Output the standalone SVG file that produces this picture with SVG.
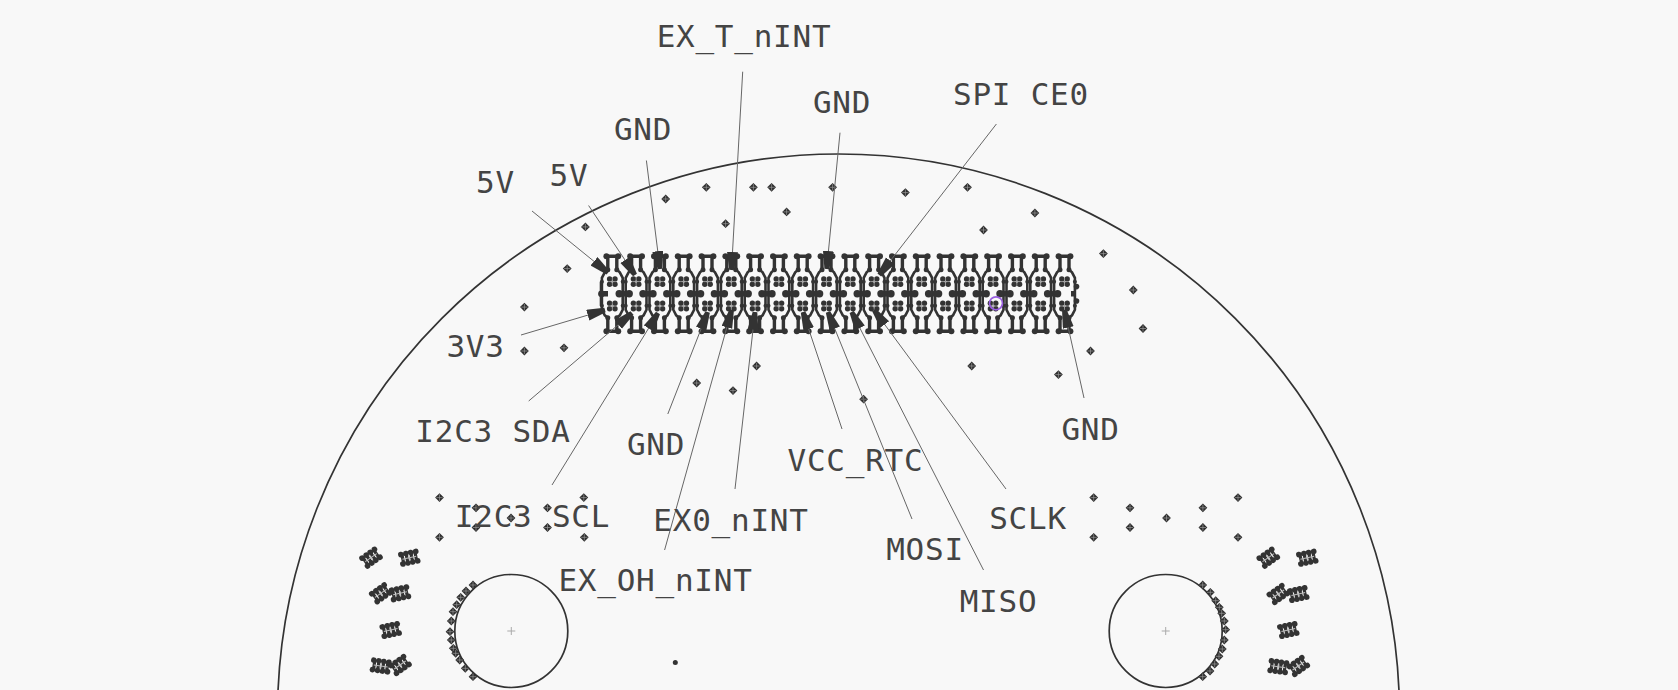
<svg xmlns="http://www.w3.org/2000/svg" width="1678" height="690" viewBox="0 0 1678 690">
<style>
text{font-family:"DejaVu Sans Mono","Liberation Mono",monospace;font-size:31px;letter-spacing:.75px;fill:#444;text-anchor:middle}
.lead{stroke:#666;stroke-width:1;fill:none;marker-end:url(#ah)}
.edge{fill:none;stroke:#333;stroke-width:1.7}
.px{stroke:#aaa;stroke-width:1;fill:none}
</style>
<defs>
<marker id="ah" markerUnits="userSpaceOnUse" markerWidth="20" markerHeight="12" refX="18" refY="5.5" orient="auto"><polygon points="0,0 18,3.2 18,7.8 0,11" fill="#333"/></marker>
<g id="via"><path d="M0-4.4L4.4 0 0 4.4-4.4 0Z" fill="#2e2e2e"/><path d="M-3.2 0H3.2M0-3.2V3.2" stroke="#999" stroke-width=".7"/></g>
<g id="foil"><g fill="#333"><circle cx="-2.7" cy="-2.7" r="2.7"/><circle cx="2.7" cy="-2.7" r="2.7"/><circle cx="-2.7" cy="2.7" r="2.7"/><circle cx="2.7" cy="2.7" r="2.7"/></g><path d="M-3.5 0H3.5M0-3.5V3.5" stroke="#999" stroke-width=".8"/></g>
<g id="cell"><g fill="none" stroke="#333" stroke-width="3.4"><path d="M-4.5-25V-37.5H4.5V-25M-4.5 25V37.5H4.5V25"/><path stroke-width="2.6" d="M-4.5-24L-7.5-21.5-10.4-16V16L-7.5 21.5-4.5 24M4.5-24L7.5-21.5 10.4-16V16L7.5 21.5 4.5 24"/></g><g fill="#333"><circle cx="-5.9" cy="-37.5" r="3"/><circle cx="5.9" cy="-37.5" r="3"/><circle cx="-5.9" cy="37.5" r="3"/><circle cx="5.9" cy="37.5" r="3"/><circle cx="-4.5" cy="-24" r="2.5"/><circle cx="4.5" cy="-24" r="2.5"/><circle cx="-4.5" cy="24" r="2.5"/><circle cx="4.5" cy="24" r="2.5"/><circle cx="-10.4" cy="-12" r="2"/><circle cx="10.4" cy="-12" r="2"/><circle cx="-10.4" cy="12" r="2"/><circle cx="10.4" cy="12" r="2"/></g><use href="#foil" y="-12.2"/><use href="#foil" y="12.2"/></g>
<g id="bell"><path d="M-5 0H5" stroke="#333" stroke-width="5.5"/><circle cx="-5" r="3.7" fill="#333"/><circle cx="5" r="3.7" fill="#333"/></g>
<g id="fp"><path d="M-6.6-4V4M-2.4-4V4M2.4-4V4M6.6-4V4" stroke="#333" stroke-width="3.2"/><path d="M-7-4.8H-2.4M2.4-4.8H7M-7 4.8H-2.4M2.4 4.8H7" stroke="#333" stroke-width="2"/><g fill="#333"><circle cx="-7.6" cy="-4.8" r="2.8"/><circle cx="-7.6" cy="4.8" r="2.8"/><circle cx="-2.4" cy="-4.8" r="2.8"/><circle cx="-2.4" cy="4.8" r="2.8"/><circle cx="2.4" cy="-4.8" r="2.8"/><circle cx="2.4" cy="4.8" r="2.8"/><circle cx="7.6" cy="-4.8" r="2.8"/><circle cx="7.6" cy="4.8" r="2.8"/></g><path d="M-7 0H7M0-3.5V3.5" stroke="#bbb" stroke-width="1"/></g>
</defs>
<rect width="1678" height="690" fill="#f8f8f8"/>
<g id="board">
<circle class="edge" cx="838.5" cy="715" r="561"/>
<circle class="edge" cx="511.3" cy="631" r="56.5"/>
<circle class="edge" cx="1165.7" cy="631" r="56.5"/>
<path class="px" d="M507.3 631h8M511.3 627v8M1161.7 631h8M1165.7 627v8"/>
<circle cx="675.3" cy="662.5" r="2.5" fill="#333"/>
</g>
<g id="vias">
<use href="#via" x="665.7" y="199"/><use href="#via" x="706.3" y="187.3"/><use href="#via" x="753.4" y="187.3"/><use href="#via" x="771.6" y="187.3"/><use href="#via" x="832.6" y="187.3"/><use href="#via" x="905.4" y="192.6"/><use href="#via" x="967.5" y="187.3"/><use href="#via" x="1034.9" y="213"/><use href="#via" x="983.5" y="230"/><use href="#via" x="786.6" y="211.9"/><use href="#via" x="725.6" y="223.7"/><use href="#via" x="585.4" y="226.9"/><use href="#via" x="567.2" y="268.6"/><use href="#via" x="1103.4" y="253.6"/><use href="#via" x="1133.3" y="290"/><use href="#via" x="1143" y="328.5"/><use href="#via" x="1090.5" y="351"/><use href="#via" x="1058.4" y="374.6"/><use href="#via" x="971.7" y="366"/><use href="#via" x="863.6" y="399.2"/><use href="#via" x="756.6" y="366"/><use href="#via" x="733" y="390.6"/><use href="#via" x="696.7" y="383"/><use href="#via" x="564" y="347.8"/><use href="#via" x="524.4" y="307.1"/><use href="#via" x="524.4" y="351"/>
<use href="#via" x="439.5" y="497.6"/><use href="#via" x="439.5" y="537.3"/><use href="#via" x="476" y="507.8"/><use href="#via" x="476" y="527.5"/><use href="#via" x="511" y="518"/><use href="#via" x="547.5" y="507.8"/><use href="#via" x="547.5" y="527.5"/><use href="#via" x="583.8" y="497.6"/><use href="#via" x="584.3" y="537.3"/>
<use href="#via" x="1093.7" y="497.6"/><use href="#via" x="1093.7" y="537.3"/><use href="#via" x="1130" y="507.8"/><use href="#via" x="1130" y="527.5"/><use href="#via" x="1166.5" y="518"/><use href="#via" x="1202.9" y="507.8"/><use href="#via" x="1202.9" y="527.5"/><use href="#via" x="1238" y="497.6"/><use href="#via" x="1238" y="537.3"/>
<use href="#via" x="473" y="585"/><use href="#via" x="466" y="591"/><use href="#via" x="460.7" y="597.3"/><use href="#via" x="456.7" y="604.7"/><use href="#via" x="453" y="611.7"/><use href="#via" x="451.3" y="621"/><use href="#via" x="450" y="631.7"/><use href="#via" x="451.3" y="640"/><use href="#via" x="453.3" y="648.3"/><use href="#via" x="455.7" y="653.3"/><use href="#via" x="459.7" y="660"/><use href="#via" x="465.3" y="668.3"/><use href="#via" x="473" y="676.7"/>
<use href="#via" x="1202.7" y="585"/><use href="#via" x="1210.3" y="592.3"/><use href="#via" x="1215.7" y="600.7"/><use href="#via" x="1219.3" y="607.3"/><use href="#via" x="1221.7" y="613.3"/><use href="#via" x="1224.3" y="621"/><use href="#via" x="1225.7" y="629.7"/><use href="#via" x="1224.3" y="640"/><use href="#via" x="1222.3" y="649"/><use href="#via" x="1219" y="656.3"/><use href="#via" x="1214.7" y="664"/><use href="#via" x="1210" y="671"/><use href="#via" x="1202.7" y="676.7"/>
</g>
<g id="footprints">
<use href="#fp" transform="translate(371 557.7) rotate(-35)"/><use href="#fp" transform="translate(409.3 557.7) rotate(-12)"/><use href="#fp" transform="translate(380.7 593.3) rotate(-35)"/><use href="#fp" transform="translate(400 593.3) rotate(-12)"/><use href="#fp" transform="translate(390.7 630) rotate(-12)"/><use href="#fp" transform="translate(380.7 666) rotate(8)"/><use href="#fp" transform="translate(400 665) rotate(-35)"/>
<use href="#fp" transform="translate(1268.3 557.7) rotate(-35)"/><use href="#fp" transform="translate(1307.3 557.7) rotate(-12)"/><use href="#fp" transform="translate(1278.3 594) rotate(-35)"/><use href="#fp" transform="translate(1298.3 594) rotate(-12)"/><use href="#fp" transform="translate(1288.3 630) rotate(-12)"/><use href="#fp" transform="translate(1278.3 666.7) rotate(8)"/><use href="#fp" transform="translate(1298.3 666) rotate(-35)"/>
</g>
<g id="header" transform="translate(0 293.8)">
<use href="#cell" x="612.3"/><use href="#cell" x="636.1"/><use href="#cell" x="659.9"/><use href="#cell" x="683.7"/><use href="#cell" x="707.5"/><use href="#cell" x="731.3"/><use href="#cell" x="755.1"/><use href="#cell" x="778.9"/><use href="#cell" x="802.7"/><use href="#cell" x="826.5"/><use href="#cell" x="850.3"/><use href="#cell" x="874.1"/><use href="#cell" x="897.9"/><use href="#cell" x="921.7"/><use href="#cell" x="945.5"/><use href="#cell" x="969.3"/><use href="#cell" x="993.1"/><use href="#cell" x="1016.9"/><use href="#cell" x="1040.7"/><use href="#cell" x="1064.5"/>
<use href="#bell" x="624.2"/><use href="#bell" x="648"/><use href="#bell" x="671.8"/><use href="#bell" x="695.6"/><use href="#bell" x="719.4"/><use href="#bell" x="743.2"/><use href="#bell" x="767"/><use href="#bell" x="790.8"/><use href="#bell" x="814.6"/><use href="#bell" x="838.4"/><use href="#bell" x="862.2"/><use href="#bell" x="886"/><use href="#bell" x="909.8"/><use href="#bell" x="933.6"/><use href="#bell" x="957.4"/><use href="#bell" x="981.2"/><use href="#bell" x="1005"/><use href="#bell" x="1028.8"/><use href="#bell" x="1052.6"/>
<path d="M602 0H608M1071 0H1076" stroke="#333" stroke-width="5.5" fill="none"/>
<path d="M601-12V12" stroke="#333" stroke-width="2.6"/><circle cx="1076.5" cy="-7.2" r="2.8" fill="#333"/><circle cx="1076.5" cy="7.2" r="2.8" fill="#333"/><circle cx="601.5" cy="0" r="3.4" fill="#333"/>
</g>
<circle id="marker-ring" cx="996" cy="303.3" r="6.5" fill="none" stroke="#9a5fe0" stroke-width="1.7"/>
<g id="connectors">
<path class="lead" d="M532 211L608 272.7"/>
<path class="lead" d="M588.6 205.5L635 275"/>
<path class="lead" d="M646.4 160.5L660 269"/>
<path class="lead" d="M742.7 71.7L731.5 270"/>
<path class="lead" d="M840 132.7L826.7 269"/>
<path class="lead" d="M996.4 124L879.3 275"/>
<path class="lead" d="M521 335L605 310"/>
<path class="lead" d="M528.7 401L632 313"/>
<path class="lead" d="M552 485L658 313"/>
<path class="lead" d="M667.8 414L707.7 312"/>
<path class="lead" d="M735 489L755 312"/>
<path class="lead" d="M664.6 550L731.7 310"/>
<path class="lead" d="M842 429L803 312"/>
<path class="lead" d="M912 519L828 312"/>
<path class="lead" d="M983.5 570L851.7 312"/>
<path class="lead" d="M1006 489L874 310"/>
<path class="lead" d="M1084 398L1064.3 310"/>
</g>
<g id="lbl-5v-a"><text x="495.5" y="192.5">5V</text></g>
<g id="lbl-5v-b"><text x="569" y="186">5V</text></g>
<g id="lbl-gnd-a"><text x="643" y="140">GND</text></g>
<g id="lbl-ex-t"><text x="744" y="47">EX_T_nINT</text></g>
<g id="lbl-gnd-b"><text x="842" y="112.5">GND</text></g>
<g id="lbl-spi"><text x="1021" y="105">SPI CE0</text></g>
<g id="lbl-3v3"><text x="475.5" y="356.5">3V3</text></g>
<g id="lbl-sda"><text x="493" y="442">I2C3 SDA</text></g>
<g id="lbl-gnd-c"><text x="656" y="455">GND</text></g>
<g id="lbl-scl"><text x="532.5" y="527">I2C3 SCL</text></g>
<g id="lbl-ex0"><text x="731" y="531">EX0_nINT</text></g>
<g id="lbl-exoh"><text x="655.5" y="591">EX_OH_nINT</text></g>
<g id="lbl-vcc"><text x="855.5" y="471">VCC_RTC</text></g>
<g id="lbl-mosi"><text x="925" y="560">MOSI</text></g>
<g id="lbl-miso"><text x="998.5" y="612">MISO</text></g>
<g id="lbl-sclk"><text x="1028" y="529">SCLK</text></g>
<g id="lbl-gnd-d"><text x="1090.5" y="440">GND</text></g>
</svg>
